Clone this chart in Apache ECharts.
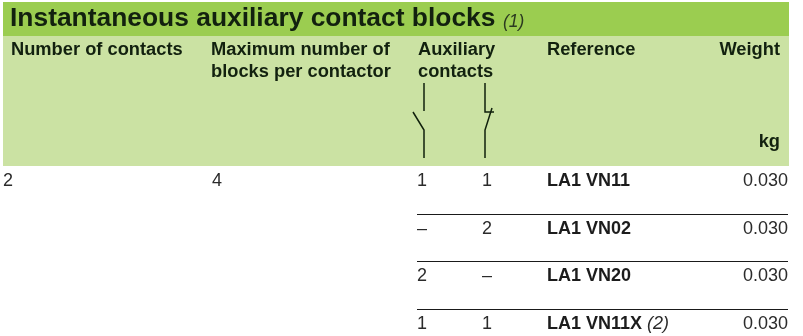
<!DOCTYPE html>
<html>
<head>
<meta charset="utf-8">
<title>Instantaneous auxiliary contact blocks</title>
<style>
	html,body{margin:0;padding:0;background:#fff;}
	#main{width:803px;height:336px;}
</style>
<script src="https://cdn.jsdelivr.net/npm/echarts@6/dist/echarts.min.js"></script>
</head>
<body>
<div id="main"></div>
<script type="text/javascript">
var titleText = 'Instantaneous auxiliary contact blocks';
var titleNote = '(1)';
var headers = [
	['Number of contacts'],
	['Maximum number of', 'blocks per contactor'],
	['Auxiliary', 'contacts'],
	['Reference'],
	['Weight']
];
var weightUnit = 'kg';

var numContacts = ['2', '', '', ''];
var maxBlocks = ['4', '', '', ''];
var auxNO = ['1', '–', '2', '1'];
var auxNC = ['1', '2', '–', '1'];
var references = ['LA1 VN11', 'LA1 VN02', 'LA1 VN20', 'LA1 VN11X'];
var refNotes = ['', '', '', '(2)'];
var weights = ['0.030', '0.030', '0.030', '0.030'];

var FONT = '"Liberation Sans", Arial, sans-serif';
var HEAD_COLOR = '#12210f';
var BODY_COLOR = '#2b2b2b';
var colX = [3, 212, 417, 482, 547, 788];
var ROW_H = 47.67;	// rows run past the bottom of the picture
var TEXT_DY = 15 / ROW_H;

var cells = [];
references.forEach(function(r, i){
	[numContacts, maxBlocks, auxNO, auxNC].forEach(function(col, c){
		if(col[i] !== ''){
			cells.push([colX[c], i + TEXT_DY, col[i], 'plain']);
		}
	});
	cells.push([colX[4], i + TEXT_DY, references[i], 'ref', refNotes[i]]);
	cells.push([colX[5], i + TEXT_DY, weights[i], 'right']);
});

function headText(x, y, text, align){
	return {
		type: 'text', x: x, y: y,
		style: {text: text, fill: HEAD_COLOR, font: 'bold 18.3px ' + FONT, align: align || 'left', verticalAlign: 'middle'}
	};
}
function wire(points){
	return {
		type: 'polyline',
		shape: {points: points},
		style: {stroke: '#10200c', lineWidth: 1.5, fill: null}
	};
}

var graphics = [
	{type: 'rect', shape: {x: 3, y: 2, width: 786, height: 34}, style: {fill: '#9bcd50'}, z: -2},
	{type: 'rect', shape: {x: 3, y: 36, width: 786, height: 130}, style: {fill: '#cbe2a3'}, z: -2},
	{
		type: 'text', x: 10, y: 19,
		style: {text: titleText, fill: HEAD_COLOR, font: 'bold 26.4px ' + FONT, verticalAlign: 'middle'}
	},
	{
		type: 'text', x: 503, y: 22,
		style: {text: titleNote, fill: '#2b3a20', font: 'italic 17.5px ' + FONT, verticalAlign: 'middle'}
	},
	headText(11, 50, headers[0][0]),
	headText(211, 50, headers[1][0]),
	headText(211, 72, headers[1][1]),
	headText(418, 50, headers[2][0]),
	headText(418, 72, headers[2][1]),
	headText(547, 50, headers[3][0]),
	headText(780, 50, headers[4][0], 'right'),
	headText(780, 142, weightUnit, 'right'),
	// contact symbols
	wire([[424, 83], [424, 111]]),
	wire([[413, 112], [424, 130], [424, 158]]),
	wire([[485, 83], [485, 112], [494, 112]]),
	wire([[492, 108], [485, 130], [485, 158]])
];

var option = {
	animation: false,
	backgroundColor: '#fff',
	grid: {left: 0, top: 166, width: 803, height: 170},
	xAxis: {type: 'value', min: 0, max: 803, show: false},
	yAxis: {type: 'value', min: 0, max: 170 / ROW_H, inverse: true, show: false},
	graphic: graphics,
	series: [
		{
			// row rules, one under each of the first three rows
			type: 'custom',
			coordinateSystem: 'cartesian2d',
			clip: false,
			data: [[417, 1, 788], [417, 2, 788], [417, 3, 788]],
			encode: {x: 0, y: 1},
			renderItem: function(params, api){
				var c = api.coord([api.value(0), api.value(1)]);
				var end = api.coord([api.value(2), api.value(1)]);
				var y = Math.round(c[1]) + 0.5;
				return {
					type: 'line',
					shape: {x1: c[0], y1: y, x2: end[0], y2: y},
					style: {stroke: '#1a1a1a', lineWidth: 1}
				};
			}
		},
		{
			type: 'custom',
			coordinateSystem: 'cartesian2d',
			clip: false,
			data: cells,
			encode: {x: 0, y: 1},
			renderItem: function(params, api){
				var cell = cells[params.dataIndex];
				var c = api.coord([cell[0], cell[1]]);
				var style = {fill: BODY_COLOR, font: '18px ' + FONT, verticalAlign: 'middle', align: 'left'};
				if(cell[3] === 'right'){
					style.align = 'right';
					style.text = cell[2];
				}else if(cell[3] === 'ref'){
					style.text = '{b|' + cell[2] + '}' + (cell[4] ? ' {i|' + cell[4] + '}' : '');
					style.rich = {
						b: {font: 'bold 18px ' + FONT, fill: '#1c1c1c'},
						i: {font: 'italic 18px ' + FONT, fill: '#2b2b2b'}
					};
				}else{
					style.text = cell[2];
				}
				return {type: 'text', x: c[0], y: c[1], style: style};
			}
		}
	]
};

var chart = echarts.init(document.getElementById('main'), null, {renderer: 'canvas'});
chart.setOption(option);
</script>
</body>
</html>
